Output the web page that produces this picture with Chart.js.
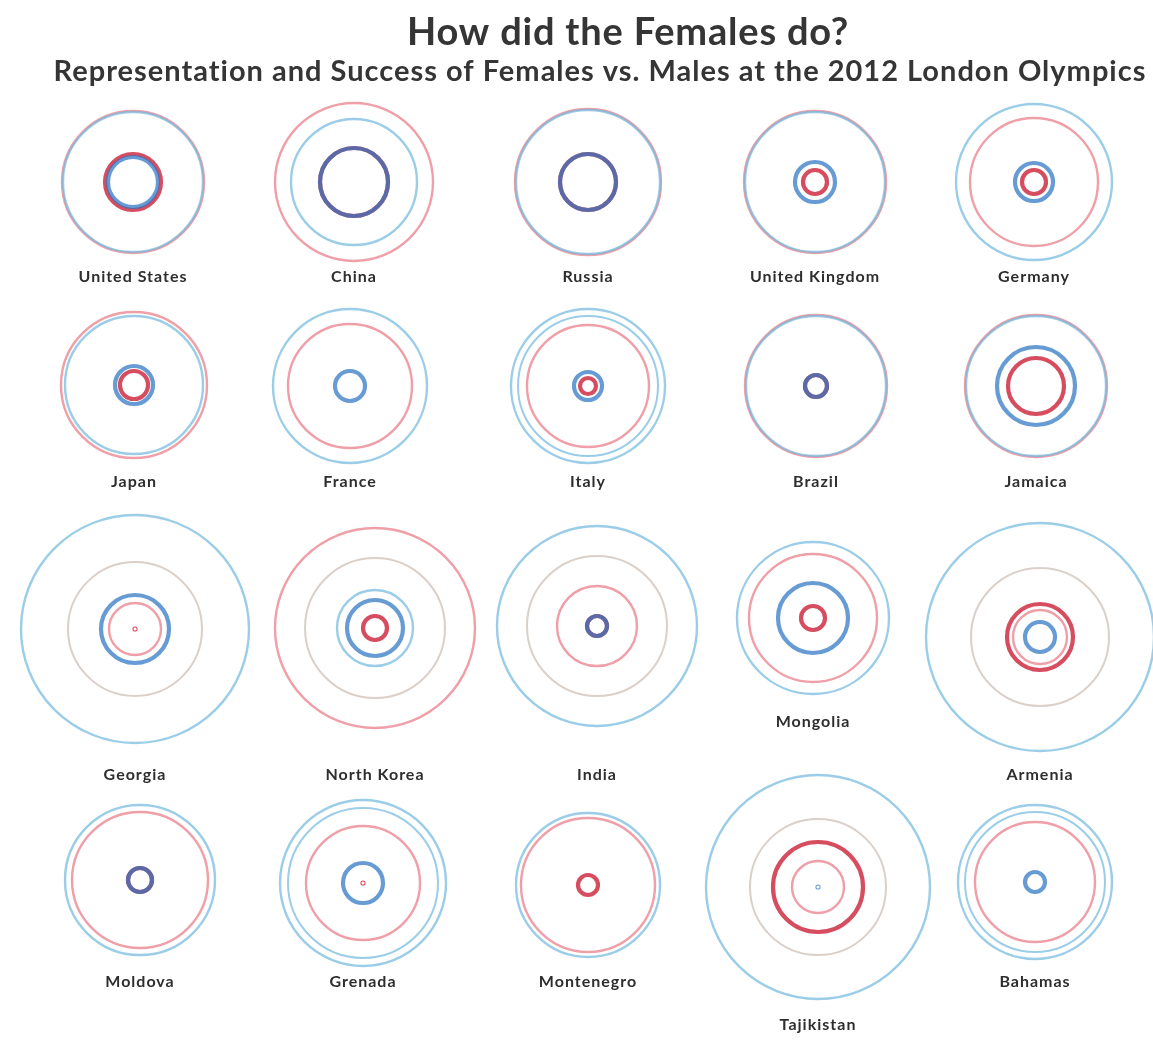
<!DOCTYPE html>
<html>
<head>
<meta charset="utf-8">
<title>How did the Females do?</title>
<script src="https://cdn.jsdelivr.net/npm/chart.js@4.4.1/dist/chart.umd.min.js"></script>
<style>
  html, body { margin: 0; padding: 0; background: #fff; }
  canvas { display: block; }
</style>
</head>
<body>
<canvas id="rings-chart" width="1153" height="1040"></canvas>
<script>
// ring sizes per country, in the same units as the layout scale
const countries = ['United States', 'China', 'Russia', 'United Kingdom', 'Germany',
  'Japan', 'France', 'Italy', 'Brazil', 'Jamaica',
  'Georgia', 'North Korea', 'India', 'Mongolia', 'Armenia',
  'Moldova', 'Grenada', 'Montenegro', 'Tajikistan', 'Bahamas'];

const femaleTeam   = [71, 79, 73, 71, 64, 73, 62, 61, 71, 71, 26, 100, 40, 64, 27, 68, 57, 67, 26, 60];
const maleTeam     = [70, 63, 72, 70, 78, 69, 77, 77, 70, 70, 114, 38, 100, 76, 114, 75, 83, 72, 112, 77];
const maleSecond   = [null, null, null, null, null, null, null, 70, null, null, null, null, null, null, null, null, 75, null, null, 70];
const evenSplit    = [null, null, null, null, null, null, null, null, null, null, 67, 70, 70, null, 69, null, null, null, 68, null];
const femaleMedals = [28, 34, 28, 12, 12, 14, null, 8, 11, 28, 0.5, 12, 10, 12, 33, 12, 0.5, 10, 45, null];
const maleMedals   = [25, 34, 28, 20, 19, 19, 15, 14, 11, 39, 34, 28, 10, 35, 15, 12, 20, null, 0.5, 10];

// where each small multiple sits on the page
const panelX = [133, 354, 588, 815, 1034, 134, 350, 588, 816, 1036, 135, 375, 597, 813, 1040, 140, 363, 588, 818, 1035];
const panelY = [182, 182, 182, 182, 182, 385, 386, 386, 386, 386, 629, 628, 626, 618, 637, 880, 883, 885, 887, 882];
const captionY = [277, 277, 277, 277, 277, 482, 482, 482, 482, 482, 775, 775, 775, 722, 775, 982, 982, 982, 1025, 982];

const RED_THICK = 'rgba(210, 58, 78, 0.9)';
const BLUE_THICK = 'rgba(44, 116, 196, 0.72)';
const RED_THIN = 'rgba(232, 118, 130, 0.7)';
const BLUE_THIN = 'rgba(112, 184, 222, 0.7)';
const FAINT = 'rgba(212, 200, 192, 0.85)';

function ringData(values) {
  const pts = [];
  values.forEach((v, i) => {
    if (v !== null) pts.push({ x: panelX[i], y: panelY[i], v: v });
  });
  return pts;
}

function ringDataset(label, values, color, width) {
  return {
    label: label,
    data: ringData(values),
    pointBackgroundColor: 'rgba(0,0,0,0)',
    pointBorderColor: color,
    pointBorderWidth: width,
    pointHoverRadius: 0,
    // radius goes through the x scale so it stays in data units
    pointRadius: (ctx) => {
      const s = ctx.chart.scales.x;
      const v = ctx.raw ? ctx.raw.v : 0;
      return Math.abs(s.getPixelForValue(v) - s.getPixelForValue(0));
    },
    clip: false
  };
}

const headings = {
  id: 'headings',
  afterDraw(chart) {
    const c = chart.ctx;
    c.save();
    c.fillStyle = '#353535';
    c.textAlign = 'center';
    c.textBaseline = 'middle';
    c.letterSpacing = '0.8px';
    c.font = 'bold 38px Lato';
    c.fillText('How did the Females do?', 628, 33);
    c.letterSpacing = '1px';
    c.font = 'bold 29px Lato';
    c.fillText('Representation and Success of Females vs. Males at the 2012 London Olympics', 600, 72);
    c.letterSpacing = '1px';
    c.font = 'bold 16px Lato';
    c.fillStyle = '#2e2e2e';
    countries.forEach((name, i) => {
      c.fillText(name, panelX[i], captionY[i]);
    });
    c.restore();
  }
};

const ctx = document.getElementById('rings-chart').getContext('2d');
const ringChart = new Chart(ctx, {
  type: 'scatter',
  plugins: [headings],
  data: {
    datasets: [
      ringDataset('Male medals', maleMedals, BLUE_THICK, 4.2),
      ringDataset('Female medals', femaleMedals, RED_THICK, 4.2),
      ringDataset('Male team', maleTeam, BLUE_THIN, 2.4),
      ringDataset('Female team', femaleTeam, RED_THIN, 2.4),
      ringDataset('Male second', maleSecond, BLUE_THIN, 2),
      ringDataset('Even split', evenSplit, FAINT, 2)
    ]
  },
  options: {
    responsive: false,
    animation: false,
    events: [],
    layout: { padding: 0 },
    scales: {
      x: { type: 'linear', min: 0, max: 1153, display: false },
      y: { type: 'linear', min: 0, max: 1040, reverse: true, display: false }
    },
    plugins: {
      legend: { display: false },
      tooltip: { enabled: false },
      title: { display: false }
    }
  }
});
</script>
</body>
</html>
